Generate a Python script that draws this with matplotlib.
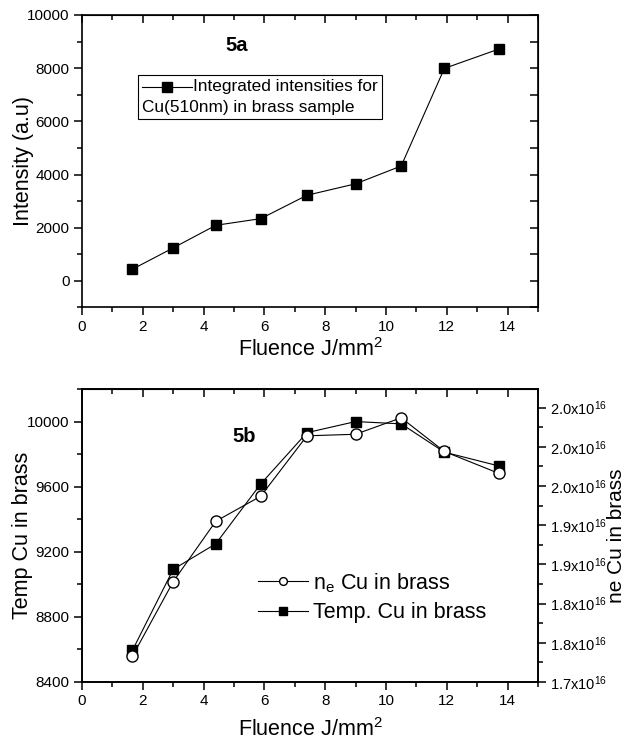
import matplotlib
matplotlib.use("Agg")
import matplotlib.pyplot as plt
from matplotlib.lines import Line2D
from matplotlib.offsetbox import (AnchoredOffsetbox, DrawingArea, HPacker,
                                  TextArea, VPacker)
from matplotlib.ticker import MultipleLocator

plt.rcParams['font.family'] = ['Liberation Sans', 'DejaVu Sans']
plt.rcParams['mathtext.fontset'] = 'custom'
plt.rcParams['mathtext.rm'] = 'Liberation Sans'
plt.rcParams['mathtext.it'] = 'Liberation Sans'

# data
fluence = [1.66, 3.0, 4.4, 5.88, 7.4, 9.0, 10.5, 11.92, 13.72]
intensity = [440, 1240, 2090, 2340, 3220, 3650, 4320, 7990, 8720]
temp = [8595, 9092, 9249, 9617, 9932, 10000, 9986, 9812, 9727]
ne = [1.733, 1.828, 1.905, 1.937, 2.014, 2.016, 2.037, 1.994, 1.966]  # x1e16
ne_ticks = [1.70, 1.75, 1.80, 1.85, 1.90, 1.95, 2.00, 2.05]
ne_tick_labels = ["1.7", "1.8", "1.8", "1.9", "1.9", "2.0", "2.0", "2.0"]

LABEL_FS = 15.5
TICK_FS = 11

fig = plt.figure(figsize=(6.29, 7.40), dpi=100)
ax1 = fig.add_axes([0.1304, 0.5845, 0.7249, 0.3953])
ax2 = fig.add_axes([0.1304, 0.0784, 0.7249, 0.3959])


def style_axis(ax):
    for s in ax.spines.values():
        s.set_linewidth(1.2)
    ax.tick_params(which='both', direction='out', width=1.1,
                   labelsize=TICK_FS, pad=3)
    ax.tick_params(which='major', length=6)
    ax.tick_params(which='minor', length=3.5)
    ax.xaxis.set_major_locator(MultipleLocator(2))
    ax.xaxis.set_minor_locator(MultipleLocator(1))
    ax.set_xlim(0, 15)


def top_ticks(ax):
    top = ax.secondary_xaxis('top')
    top.xaxis.set_major_locator(MultipleLocator(2))
    top.xaxis.set_minor_locator(MultipleLocator(1))
    top.tick_params(which='both', direction='in', labeltop=False, width=1.1)
    top.tick_params(which='major', length=6)
    top.tick_params(which='minor', length=3.5)


# ---- 5a ----
style_axis(ax1)
ax1.plot(fluence, intensity, color='black', lw=0.8, marker='s', ms=7.5,
         mfc='black', mec='black')
ax1.set_ylim(-1000, 10000)
ax1.yaxis.set_major_locator(MultipleLocator(2000))
ax1.yaxis.set_minor_locator(MultipleLocator(1000))
ax1.set_xlabel('Fluence J/mm$^2$', fontsize=LABEL_FS, labelpad=3)
ax1.set_ylabel('Intensity (a.u)', fontsize=LABEL_FS, labelpad=-5)
ax1.text(0.34, 0.897, '5a', transform=ax1.transAxes, fontsize=14.5,
         fontweight='bold', ha='center', va='center')
top_ticks(ax1)
right1 = ax1.secondary_yaxis('right')
right1.yaxis.set_major_locator(MultipleLocator(1000))
right1.tick_params(direction='in', labelright=False, length=6, width=1.1)

# legend box for 5a
da = DrawingArea(36, 10, 0, 0)
da.add_artist(Line2D([0, 36], [5, 5], color='black', lw=0.8))
da.add_artist(Line2D([18], [5], marker='s', ms=6.5, color='black'))
row1 = HPacker(children=[da, TextArea('Integrated intensities for',
                                      textprops=dict(fontsize=12.4))],
               align='center', pad=0, sep=1)
row2 = TextArea('Cu(510nm) in brass sample', textprops=dict(fontsize=12.4))
box = VPacker(children=[row1, row2], align='left', pad=0, sep=4)
anch = AnchoredOffsetbox(loc='center', child=box, pad=0.3, borderpad=0,
                         frameon=True, bbox_to_anchor=(0.39, 0.72),
                         bbox_transform=ax1.transAxes)
anch.patch.set_linewidth(0.8)
anch.patch.set_edgecolor('black')
anch.patch.set_boxstyle('square', pad=0)
ax1.add_artist(anch)

# ---- 5b ----
style_axis(ax2)
ax2.set_ylim(8400, 10200)
ax2.yaxis.set_major_locator(MultipleLocator(400))
ax2.yaxis.set_minor_locator(MultipleLocator(200))
ax2.set_xlabel('Fluence J/mm$^2$', fontsize=LABEL_FS, labelpad=7)
ax2.set_ylabel('Temp Cu in brass', fontsize=LABEL_FS, labelpad=-4.5)
top_ticks(ax2)

ax3 = ax2.twinx()
for s in ax3.spines.values():
    s.set_linewidth(1.2)
l_ne, = ax3.plot(fluence, ne, color='black', lw=0.8, marker='o', ms=8,
                 mfc='white', mec='black', mew=1.0, zorder=2)
l_t, = ax2.plot(fluence, temp, color='black', lw=0.8, marker='s', ms=7.5,
                mfc='black', mec='black')
ax3.set_ylim(1.70, 2.0737)
ax3.set_yticks(ne_ticks)
ax3.set_yticklabels([lab + r'x10$^{16}$' for lab in ne_tick_labels])
ax3.yaxis.set_minor_locator(MultipleLocator(0.025))
ax3.tick_params(which='both', direction='out', width=1.1,
                labelsize=10.5, pad=3)
ax3.tick_params(which='major', length=6)
ax3.tick_params(which='minor', length=3.5)
ax3.set_ylabel('ne Cu in brass', fontsize=15, labelpad=0)
ax2.text(0.355, 0.837, '5b', transform=ax2.transAxes, fontsize=14.5,
         fontweight='bold', ha='center', va='center')

ax2.legend([l_ne, l_t], ['n$_e$ Cu in brass', 'Temp. Cu in brass'],
           loc='center left', bbox_to_anchor=(0.386, 0.29), frameon=False,
           fontsize=LABEL_FS, handlelength=2.3, handletextpad=0.25,
           labelspacing=0.35, borderpad=0, borderaxespad=0, markerscale=0.7)

fig.savefig('out.png', dpi=100)
